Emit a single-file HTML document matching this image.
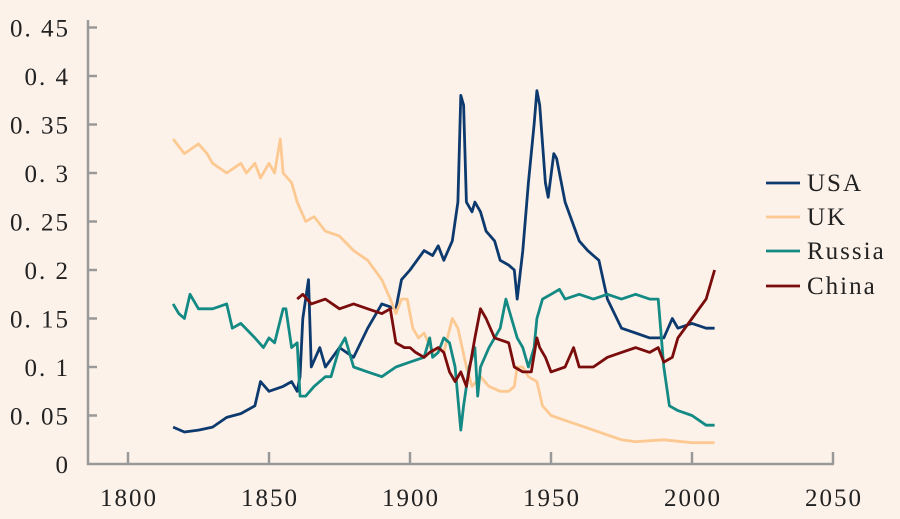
<!DOCTYPE html>
<html><head><meta charset="utf-8"><style>
body{margin:0;background:#fdf2ea;}
svg{display:block;font-family:"Liberation Serif","Noto Serif CJK SC",serif;}
</style></head><body>
<svg id="s" width="900" height="519" viewBox="0 0 900 519">
<rect width="900" height="519" fill="#fdf2ea"/>
<g id="ax" stroke="#999" stroke-width="2.5" fill="none"></g>
<g id="lines" fill="none" stroke-width="2.8" stroke-linejoin="round"></g>
<g id="txt" font-size="25" fill="#222" letter-spacing="2"></g>
</svg>
<script>
const X=y=>128+(y-1800)*2.82, Y=v=>464-970*v;
const ns="http://www.w3.org/2000/svg";
function el(p,t,a,txt){const e=document.createElementNS(ns,t);for(const k in a)e.setAttribute(k,a[k]);if(txt!==undefined)e.textContent=txt;document.getElementById(p).appendChild(e);}
el("ax","path",{d:"M88,20V464H834"});
for(let i=1;i<=9;i++){const v=i*0.05;el("ax","path",{d:`M88,${Y(v)}H97`});}
for(let y=1800;y<=2050;y+=50){el("ax","path",{d:`M${X(y)},464V452`});el("txt","text",{x:X(y)+1,y:506,"text-anchor":"middle"},String(y));}
const yl=["0","0. 05","0. 1","0. 15","0. 2","0. 25","0. 3","0. 35","0. 4","0. 45"];
yl.forEach((t,i)=>el("txt","text",{x:70,y:Y(i*0.05)+9,"text-anchor":"end"},t));
const D={
"#0d3a6e":[1816,.038,1820,.033,1825,.035,1830,.038,1835,.048,1840,.052,1845,.06,1847,.085,1850,.075,1855,.08,1858,.085,1860,.075,1861,.09,1862,.15,1864,.19,1865,.10,1868,.12,1870,.10,1875,.12,1880,.11,1885,.14,1890,.165,1895,.16,1897,.19,1900,.20,1905,.22,1908,.215,1910,.225,1912,.21,1915,.23,1917,.27,1918,.38,1919,.37,1920,.27,1922,.26,1923,.27,1925,.26,1927,.24,1930,.23,1932,.21,1935,.205,1937,.20,1938,.17,1940,.22,1942,.29,1944,.35,1945,.385,1946,.37,1948,.29,1949,.275,1951,.32,1952,.315,1955,.27,1960,.23,1963,.22,1965,.215,1967,.21,1970,.17,1975,.14,1980,.135,1985,.13,1990,.13,1993,.15,1995,.14,2000,.145,2005,.14,2008,.14],
"#fdc992":[1816,.335,1820,.32,1825,.33,1828,.32,1830,.31,1835,.30,1840,.31,1842,.30,1845,.31,1847,.295,1850,.31,1852,.30,1854,.335,1855,.30,1858,.29,1860,.27,1863,.25,1866,.255,1870,.24,1875,.235,1880,.22,1885,.21,1890,.19,1893,.17,1895,.155,1897,.17,1899,.17,1901,.14,1903,.13,1905,.135,1908,.115,1910,.12,1912,.115,1915,.15,1917,.14,1920,.10,1922,.08,1925,.09,1928,.08,1932,.075,1935,.075,1937,.08,1938,.10,1940,.10,1942,.09,1945,.085,1947,.06,1950,.05,1955,.045,1960,.04,1965,.035,1970,.03,1975,.025,1980,.023,1990,.025,2000,.022,2008,.022],
"#148a84":[1816,.165,1818,.155,1820,.15,1822,.175,1825,.16,1830,.16,1835,.165,1837,.14,1840,.145,1845,.13,1848,.12,1850,.13,1852,.125,1855,.16,1856,.16,1858,.12,1860,.125,1861,.07,1863,.07,1866,.08,1870,.09,1872,.09,1875,.12,1877,.13,1880,.10,1885,.095,1890,.09,1895,.10,1900,.105,1905,.11,1907,.13,1908,.11,1910,.115,1912,.13,1914,.125,1916,.10,1918,.035,1919,.06,1921,.10,1923,.12,1924,.07,1925,.10,1928,.12,1930,.13,1932,.14,1934,.17,1936,.15,1938,.13,1940,.12,1942,.10,1944,.12,1945,.15,1947,.17,1950,.175,1953,.18,1955,.17,1960,.175,1965,.17,1970,.175,1975,.17,1980,.175,1985,.17,1988,.17,1990,.10,1992,.06,1995,.055,2000,.05,2005,.04,2008,.04],
"#7a0c0c":[1860,.17,1862,.175,1865,.165,1870,.17,1875,.16,1880,.165,1885,.16,1890,.155,1893,.16,1895,.125,1898,.12,1900,.12,1902,.115,1905,.11,1907,.115,1910,.12,1912,.115,1914,.095,1916,.085,1918,.095,1920,.08,1923,.13,1925,.16,1927,.15,1930,.13,1935,.125,1937,.10,1940,.095,1943,.095,1945,.13,1946,.12,1948,.11,1950,.095,1955,.10,1958,.12,1960,.10,1965,.10,1970,.11,1975,.115,1980,.12,1985,.115,1988,.12,1990,.105,1993,.11,1995,.13,2000,.15,2005,.17,2008,.20]};
for(const c in D){const a=D[c];let p=[];for(let i=0;i<a.length;i+=2)p.push(X(a[i]).toFixed(1)+","+Y(a[i+1]).toFixed(1));el("lines","polyline",{stroke:c,points:p.join(" ")});}
const L=[["USA","#0d3a6e",183],["UK","#fdc992",217],["Russia","#148a84",251],["China","#7a0c0c",286]];
L.forEach(([n,c,y])=>{el("lines","path",{d:`M766,${y}H800`,stroke:c});el("txt","text",{x:807,y:y+8},n);});
</script>
</body></html>
